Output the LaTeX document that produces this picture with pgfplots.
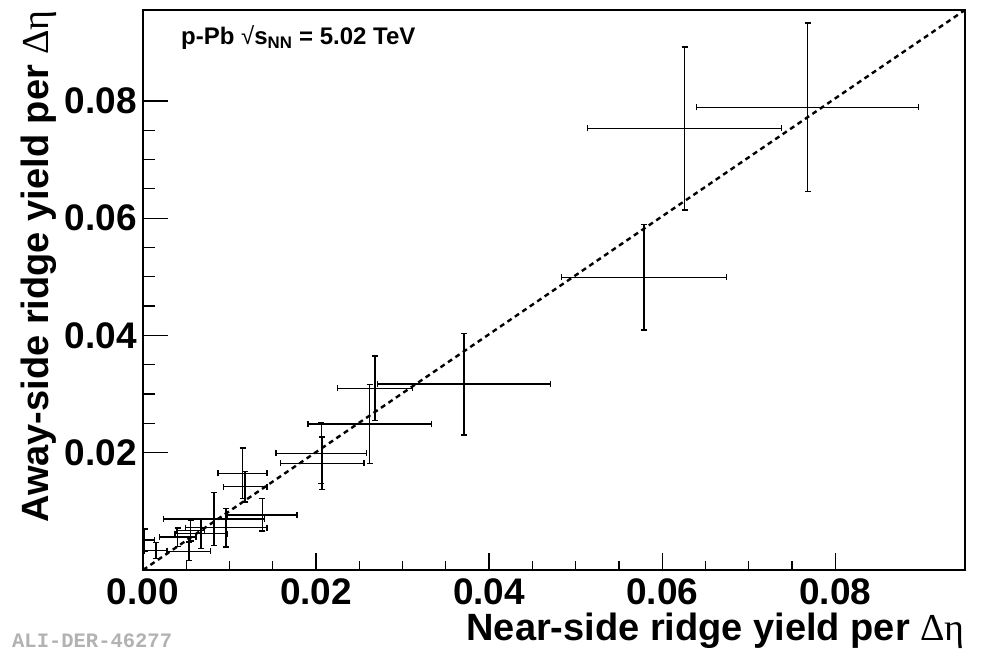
\documentclass[border=0pt]{standalone}
\usepackage{fontspec}
\setmainfont{Liberation Sans}
\newfontfamily\serif{Liberation Serif}
\newfontfamily\mono{Liberation Mono}
\usepackage{pgfplots}
\usetikzlibrary{arrows.meta}
\pgfplotsset{compat=1.18}
\pgfplotstableread{
x y ex ey
0.0768 0.0789 0.0129 0.0145
0.0626 0.0753 0.0113 0.0140
0.0579 0.0499 0.0096 0.0091
0.0371 0.0317 0.0101 0.0088
0.0268 0.0310 0.0044 0.0056
0.0262 0.0249 0.0072 0.0069
0.0206 0.0199 0.0053 0.0053
0.0207 0.0182 0.0049 0.0046
0.0115 0.0165 0.0029 0.0044
0.0118 0.0142 0.0026 0.0027
0.0138 0.0094 0.0041 0.0029
0.0096 0.0072 0.0048 0.0034
0.0082 0.0087 0.0059 0.0046
0.0067 0.0062 0.0031 0.0027
0.0055 0.0067 0.0017 0.0019
0.0040 0.0056 0.0022 0.0017
0.0053 0.0032 0.0026 0.0017
0.0015 0.0033 0.0014 0.0015
0.0002 0.0051 0.0012 0.0020
}\ridge
\begin{document}
\begin{tikzpicture}
\useasboundingbox (0bp,0bp) rectangle (981bp,652bp);
\pgfplotsset{
  base/.style={
    at={(143bp,82bp)}, anchor=south west, scale only axis,
    width=822bp, height=560bp,
    xmin=0, xmax=0.095, ymin=0, ymax=0.0955,
    axis line style={line width=1.5bp},
    tick align=inside,
    every tick/.style={black, line width=1.3bp},
    /pgf/number format/assume math mode=true,
    /pgf/number format/fixed, /pgf/number format/fixed zerofill,
    /pgf/number format/precision=2,
    scaled ticks=false,
  }
}
\begin{axis}[base,
  xtick={0,0.02,0.04,0.06,0.08},
  minor x tick num=3,
  ytick=\empty,
  xtick pos=bottom,
  major tick length=17bp, minor tick length=8.5bp,
  xticklabel style={anchor=base, yshift=-34bp, inner sep=0pt,
     font=\fontsize{37bp}{44bp}\selectfont\bfseries},
]
\addplot[draw=none, mark=none,
  error bars/.cd, x dir=both, y dir=both, x explicit, y explicit,
  error mark=none,
  error bar style={draw=black, solid, line width=1.4bp,
     -{Bar[width=6bp]}}]
  table[x=x, y=y, x error=ex, y error=ey] {\ridge};
\addplot[black, line width=2.4bp, dash pattern=on 5bp off 4bp] coordinates {(0,0) (0.095,0.0955)};
\end{axis}
\begin{axis}[base,
  ytick={0.02,0.04,0.06,0.08},
  minor y tick num=3,
  xtick=\empty,
  ytick pos=left,
  major tick length=25bp, minor tick length=12bp,
  yticklabel style={anchor=east, xshift=-6bp, inner sep=0pt,
     font=\fontsize{37bp}{44bp}\selectfont\bfseries},
]
\end{axis}
\node[anchor=base west, inner sep=0pt, font=\fontsize{24bp}{28bp}\selectfont\bfseries]
  at (181bp,607bp) {p-Pb {\mdseries √}s\textsubscript{NN} = 5.02 TeV};
\node[anchor=base east, inner sep=0pt, font=\fontsize{38bp}{46bp}\selectfont\bfseries]
  at (965bp,12bp) {Near-side ridge yield per {\serif\mdseries Δη}};
\node[anchor=base east, rotate=90, inner sep=0pt, font=\fontsize{38bp}{46bp}\selectfont\bfseries]
  at (48bp,642bp) {Away-side ridge yield per {\serif\mdseries Δη}};
\node[anchor=base west, inner sep=0pt, text=black!30, font=\fontsize{20.5bp}{24bp}\selectfont\mono\bfseries]
  at (12bp,5bp) {ALI-DER-46277};
\end{tikzpicture}
\end{document}
